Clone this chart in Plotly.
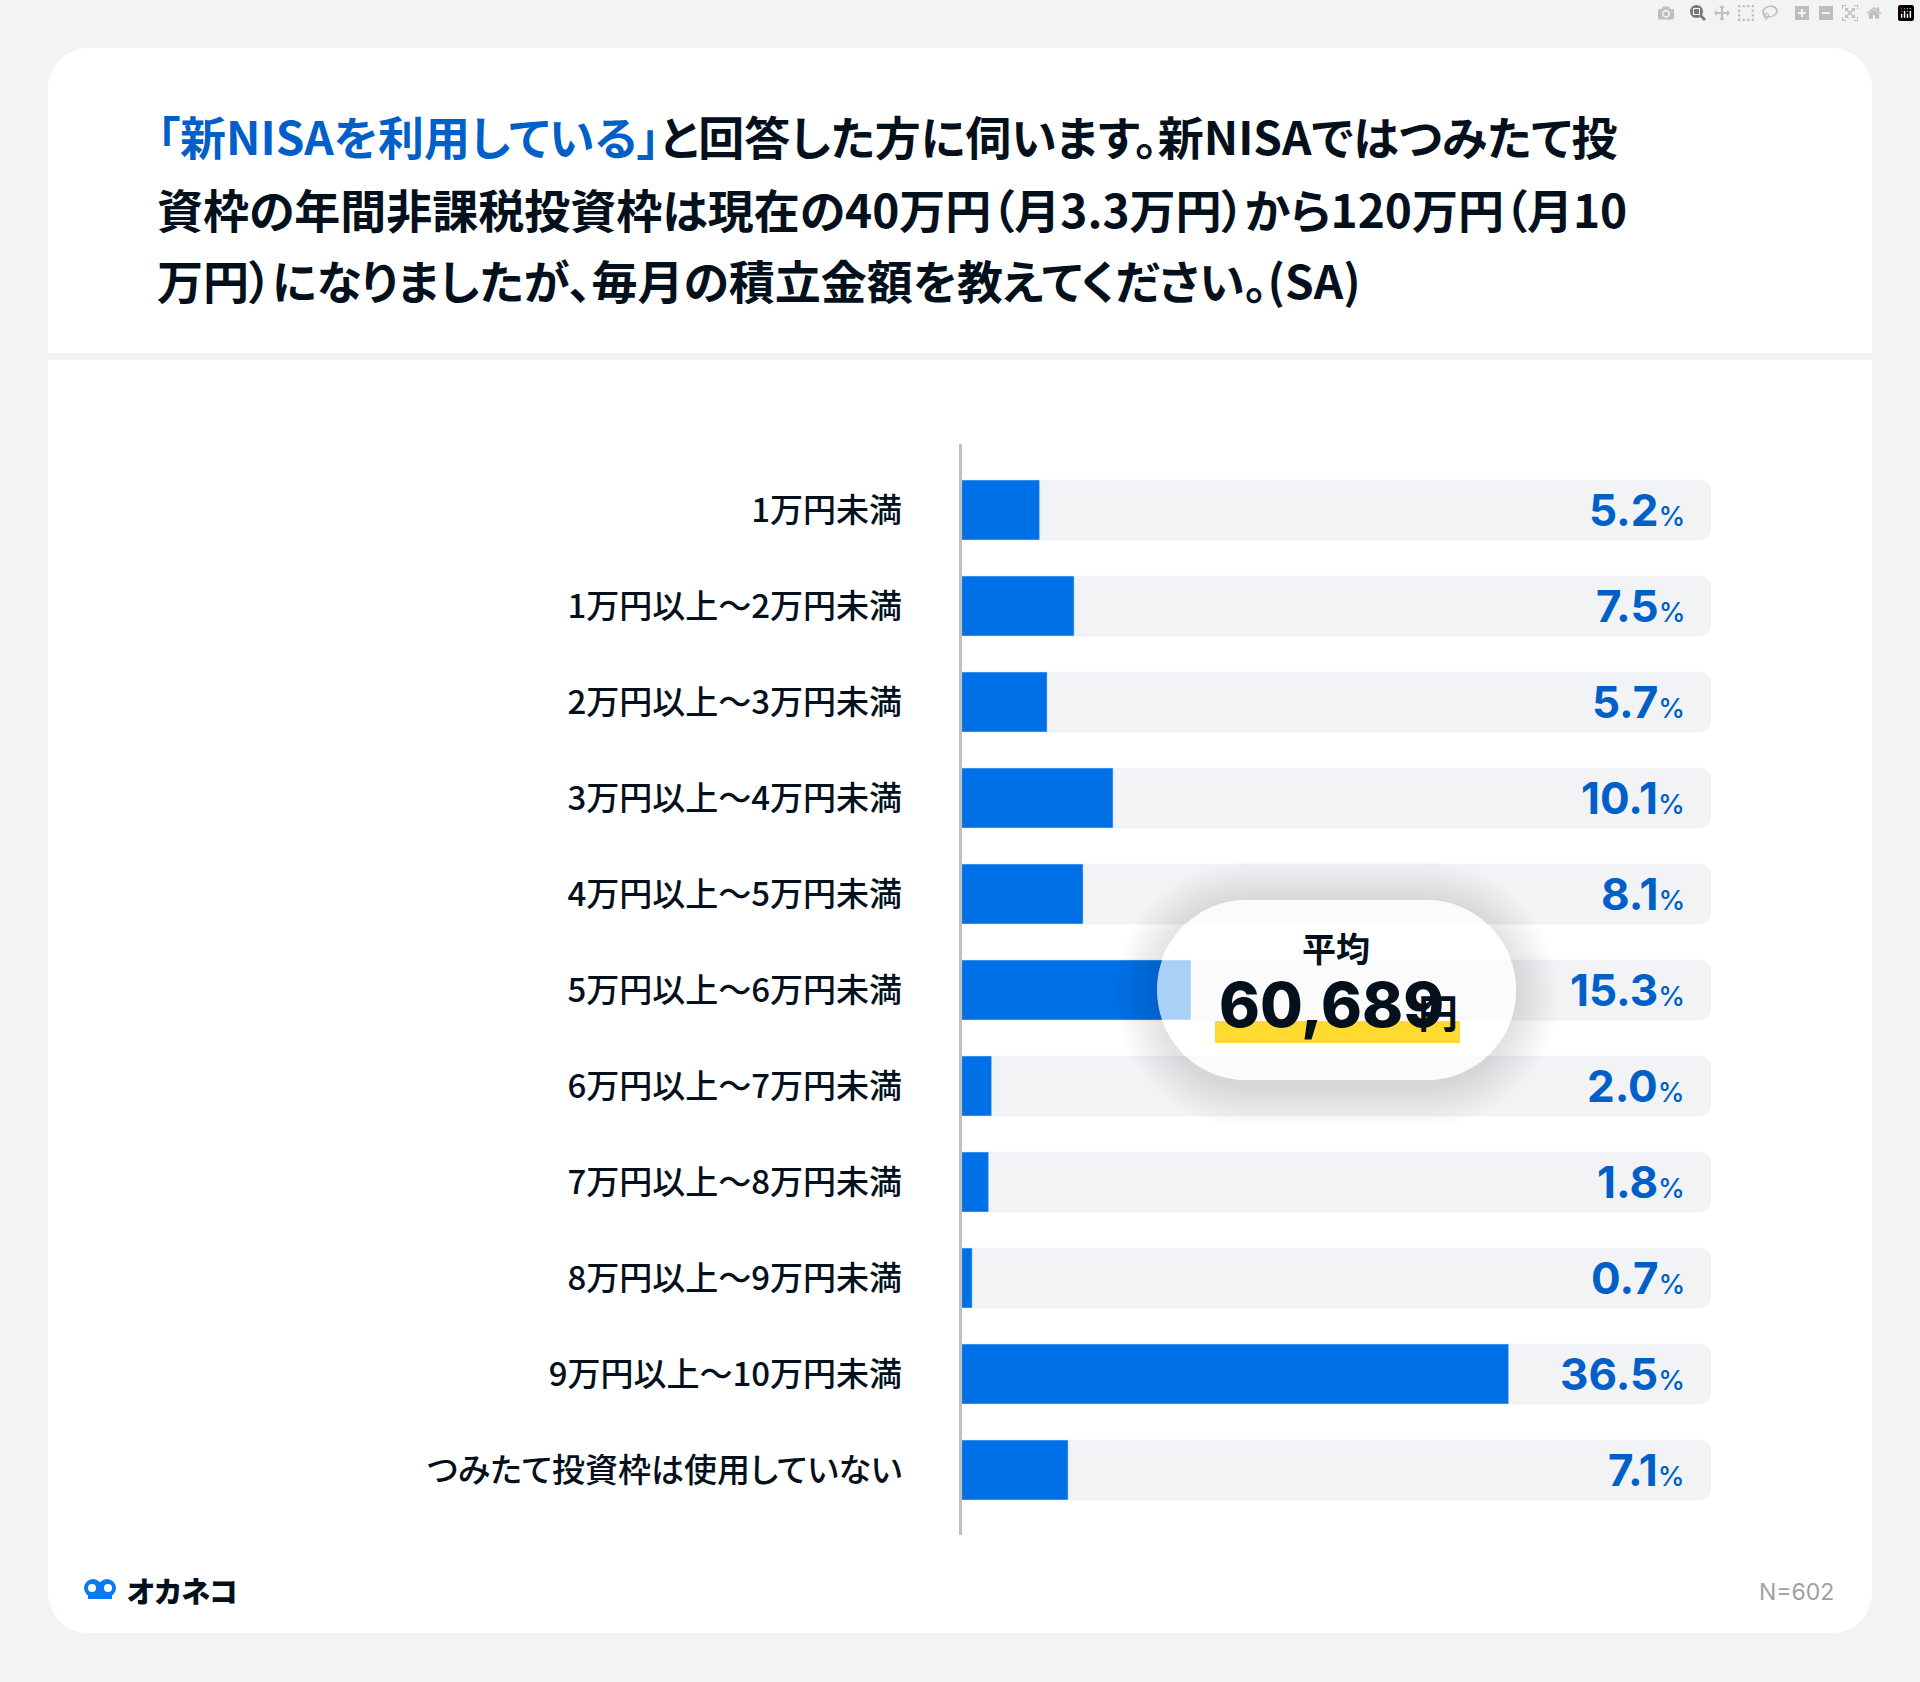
import plotly.graph_objects as go

# Dati
categorie = [
    "1万円未満", "1万円以上～2万円未満", "2万円以上～3万円未満", "3万円以上～4万円未満",
    "4万円以上～5万円未満", "5万円以上～6万円未満", "6万円以上～7万円未満", "7万円以上～8万円未満",
    "8万円以上～9万円未満", "9万円以上～10万円未満", "つみたて投資枠は使用していない",
]
valori = [5.2, 7.5, 5.7, 10.1, 8.1, 15.3, 2.0, 1.8, 0.7, 36.5, 7.1]
fondo_scala = [50] * len(categorie)

titolo_righe = [
    "<span style='color:#0060C8'>「新NISAを利用している」</span>と回答した方に伺います。新NISAではつみたて投",
    "資枠の年間非課税投資枠は現在の40万円（月3.3万円）から120万円（月10",
    "万円）になりましたが、毎月の積立金額を教えてください。(SA)",
]
media_etichetta = "平均"
media_valore = "60,689"
n_testo = "N=602"

W, H = 1920, 1682
SFONDO = "#F1F3F5"
BLU = "#0070E6"
BLU_TESTO = "#0060C8"
NERO = "#04101C"
FONT_JP = "Noto Sans CJK JP"


def px(x):
    return x / W


def py(y):
    return 1 - y / H


def rr(x0, y0, x1, y1, r):
    # rettangolo arrotondato in coordinate pixel, convertito in frazioni di pagina
    k = r * 0.448
    pts = [
        ("M", (x0 + r, y0)), ("L", (x1 - r, y0)),
        ("C", (x1 - k, y0), (x1, y0 + k), (x1, y0 + r)), ("L", (x1, y1 - r)),
        ("C", (x1, y1 - k), (x1 - k, y1), (x1 - r, y1)), ("L", (x0 + r, y1)),
        ("C", (x0 + k, y1), (x0, y1 - k), (x0, y1 - r)), ("L", (x0, y0 + r)),
        ("C", (x0, y0 + k), (x0 + k, y0), (x0 + r, y0)),
    ]
    out = ""
    for p in pts:
        out += p[0] + " ".join(f"{px(a):.5f},{py(b):.5f}" for a, b in p[1:]) + " "
    return out + "Z"


def forma(path, colore, layer="below"):
    return dict(type="path", xref="paper", yref="paper", path=path, fillcolor=colore,
                line=dict(width=0), layer=layer)


def box(tipo, x0, y0, x1, y1, colore, layer="above"):
    return dict(type=tipo, xref="paper", yref="paper", x0=px(x0), x1=px(x1), y0=py(y1), y1=py(y0),
                fillcolor=colore, line=dict(width=0), layer=layer)


def testo(x, y, s, size, colore=NERO, anchor="left", weight=400, family=FONT_JP):
    return dict(xref="paper", yref="paper", x=px(x), y=py(y), text=s, showarrow=False,
                xanchor=anchor, yanchor="middle", align=anchor,
                font=dict(family=family, size=size, color=colore, weight=weight))


fig = go.Figure()

# barre di sfondo e barre dei valori
fig.add_trace(go.Bar(y=categorie, x=fondo_scala, orientation="h", marker=dict(color=SFONDO, cornerradius=12),
                     hoverinfo="skip", showlegend=False))
fig.add_trace(go.Bar(y=categorie, x=valori, orientation="h", marker=dict(color=BLU, cornerradius=12),
                     showlegend=False))

shapes = [
    forma(rr(48, 48, 1872, 1633, 40), "#FFFFFF"),
    box("rect", 48, 353, 1872, 360, SFONDO, layer="below"),
]

# ombra della pillola: anelli sovrapposti
pill = (1157, 900, 1516, 1080)
for d in range(3, 45, 3):
    esterno = rr(pill[0] - d, pill[1] - d + 4, pill[2] + d, pill[3] + d + 4, 90 + d)
    shapes.append(forma(esterno + " " + rr(*pill, 90), "rgba(0,0,0,0.0065)", layer="above"))
shapes.append(forma(rr(*pill, 90), "rgba(255,255,255,0.67)", layer="above"))
shapes.append(box("rect", 1215, 1021, 1460, 1043, "#FFDB30"))

# logo
shapes += [
    box("circle", 84, 1579, 102, 1597, "#0A78F0"),
    box("circle", 98, 1579, 116, 1597, "#0A78F0"),
    box("rect", 88, 1590, 112, 1599, "#0A78F0"),
    box("circle", 88, 1584, 96, 1592, "#FFFFFF"),
    box("circle", 104, 1584, 112, 1592, "#FFFFFF"),
]

annotazioni = [
    testo(155, 135, titolo_righe[0], 46, weight=700),
    testo(155, 208, titolo_righe[1], 46, weight=700),
    testo(155, 279, titolo_righe[2], 46, weight=700),
    testo(1336, 948, media_etichetta, 34, weight=700),
    testo(1217, 1004, media_valore, 62, weight=800, family="Inter"),
    testo(1416, 1011, "円", 40, weight=700),
    testo(125, 1590, "オカネコ", 29, weight=900),
    testo(1836, 1592, n_testo, 23, colore="#9BA1A6", anchor="right", family="Inter"),
]
annotazioni[3]["xanchor"] = "center"

for cat, v in zip(categorie, valori):
    annotazioni.append(dict(
        xref="x", yref="y", x=fondo_scala[0], y=cat, xshift=-24, xanchor="right", yanchor="middle",
        showarrow=False,
        text=f"{v:.1f}<span style='font-size:27px;font-weight:500'>%</span>",
        font=dict(family="Inter", size=44, color=BLU_TESTO, weight=700),
    ))

fig.update_layout(
    width=W, height=H,
    margin=dict(l=0, r=0, t=0, b=0),
    paper_bgcolor=SFONDO,
    plot_bgcolor="rgba(0,0,0,0)",
    barmode="overlay",
    bargap=0.375,
    shapes=shapes,
    annotations=annotazioni,
    xaxis=dict(domain=[px(961.7), px(1711)], range=[0, 50], visible=False, fixedrange=True),
    yaxis=dict(
        domain=[py(1535), py(444)],
        type="category",
        categoryorder="array",
        categoryarray=categorie,
        range=[10.677, -0.6875],
        showline=True, linecolor="#BFC2C5", linewidth=3,
        showgrid=False, zeroline=False,
        ticks="", ticklabelstandoff=50,
        tickfont=dict(family=FONT_JP, size=33, color=NERO, weight=500),
    ),
)

# niente margini del body e spaziatura giapponese proporzionale
post = """
document.body.style.margin='0';
var st=document.createElement('style');
st.textContent='svg text{font-feature-settings:"palt" 1;}';
document.head.appendChild(st);
var gd=document.querySelector('.plotly-graph-div');
Plotly.relayout(gd,{});
"""
fig.write_html("out.html", post_script=post)
